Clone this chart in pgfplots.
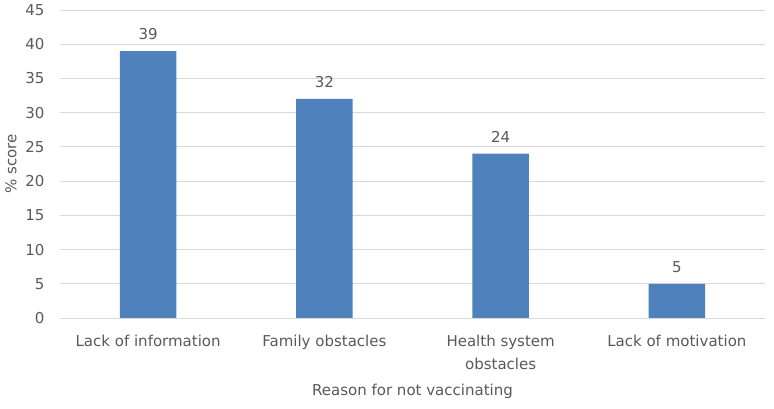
\documentclass[border=0pt]{standalone}
\usepackage{pgfplots}
\pgfplotsset{compat=1.18}
\usepackage{fontspec}
\setmainfont{DejaVu Sans}
\definecolor{barblue}{HTML}{4F81BD}
\definecolor{gridgray}{HTML}{D9D9D9}
\definecolor{txtgray}{HTML}{595959}
\newcommand{\chartfont}{\fontsize{15}{23}\selectfont}
\begin{document}
\begin{tikzpicture}[x=1pt,y=1pt]
\begin{axis}[
    scale only axis,
    width=705pt, height=308pt,
    ybar,
    bar width=0.32,
    xmin=-0.5, xmax=3.5,
    ymin=0, ymax=45,
    ytick={0,5,...,45},
    xtick={0,1,2,3},
    xticklabels={Lack of information,Family obstacles,{Health system\\obstacles},Lack of motivation},
    xticklabel style={align=center, font=\chartfont, text=txtgray, yshift=-14pt},
    yticklabel style={font=\chartfont, text=txtgray, xshift=-12pt},
    /pgf/number format/assume math mode=true,
    major tick length=0pt,
    axis line style={draw=none},
    ymajorgrids,
    grid style={gridgray, line width=0.9pt},
    xlabel={Reason for not vaccinating},
    ylabel={\% score},
    label style={font=\chartfont, text=txtgray},
    xlabel style={yshift=-7pt},
    ylabel style={yshift=2pt},
    nodes near coords,
    nodes near coords style={font=\chartfont, text=txtgray},
    every node near coord/.append style={yshift=8pt},
    enlargelimits=false,
    clip=false,
]
\addplot[fill=barblue, draw=none] coordinates {(0,39) (1,32) (2,24) (3,5)};
\end{axis}
\pgfresetboundingbox
\path ([xshift=-60pt,yshift=-91pt]current axis.south west) rectangle ([xshift=9pt,yshift=10pt]current axis.north east);
\end{tikzpicture}
\end{document}
